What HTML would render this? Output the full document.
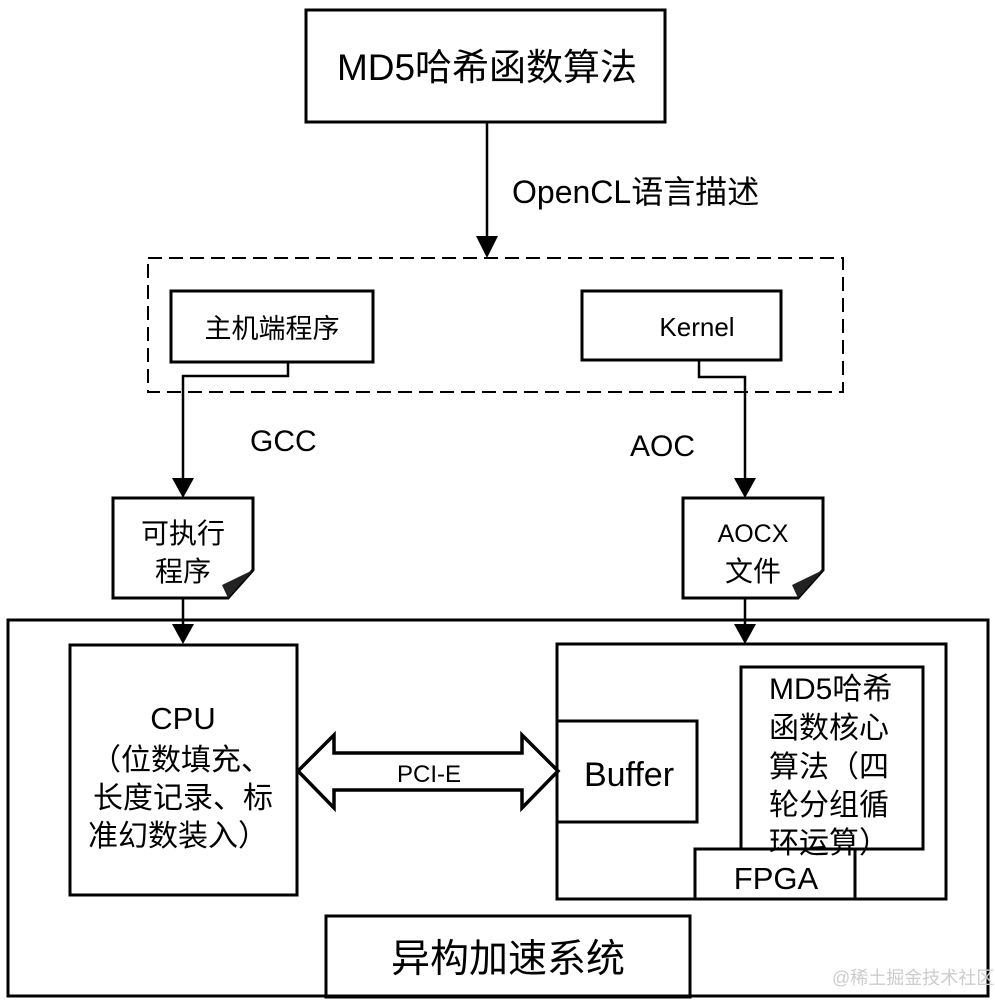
<!DOCTYPE html>
<html><head><meta charset="utf-8"><style>
body{margin:0;background:#fff;}
svg text{font-family:"Liberation Sans","Noto Sans CJK SC",sans-serif;fill:#000;}
</style></head><body>
<svg width="995" height="1000" viewBox="0 0 995 1000" xmlns="http://www.w3.org/2000/svg">
<g fill="none" stroke="#000" stroke-width="3">
<rect x="306" y="10" width="359" height="112"/>
<rect x="148" y="258" width="695" height="134" stroke-dasharray="14,7" stroke-width="2"/>
<rect x="171" y="291" width="202" height="71"/>
<rect x="582" y="291" width="199" height="69"/>
<rect x="8" y="620" width="980" height="376"/>
<rect x="70" y="645" width="227" height="250"/>
<rect x="557" y="644" width="389" height="255"/>
<rect x="557" y="721" width="140" height="101"/>
<rect x="741" y="667" width="182" height="182"/>
<rect x="695" y="849" width="160" height="50" fill="#fff"/>
<rect x="326" y="916" width="364" height="81"/>
<path d="M113,498 H253 V570 L228,598 H113 Z"/>
<path d="M683,498 H823 V570 L798,598 H683 Z"/>
<path d="M298,771 L334,735 V753 H522 V735 L558,771 L522,808 V790 H334 V808 Z" stroke-width="3.5"/>
</g>
<path d="M253,570 L228,598 L222,585 Z" fill="#222"/>
<path d="M823,570 L798,598 L792,585 Z" fill="#222"/>
<g fill="none" stroke="#000" stroke-width="2.5">
<path d="M487,122 V236"/><path d="M288,362 V376 H183 V478"/><path d="M699,360 V377 H745 V478"/>
<path d="M183,598 V625"/><path d="M745,598 V625"/>
</g>
<g fill="#000">
<path d="M476,236 H498 L487,258 Z"/><path d="M172,478 H194 L183,498 Z"/><path d="M734,478 H756 L745,498 Z"/>
<path d="M172,624 H194 L183,644 Z"/><path d="M734,624 H756 L745,644 Z"/>
</g>
<text x="487" y="80" font-size="37" text-anchor="middle">MD5哈希函数算法</text>
<text x="512" y="203" font-size="32">OpenCL语言描述</text>
<text x="272" y="338" font-size="27" text-anchor="middle">主机端程序</text>
<text x="697" y="336" font-size="26" text-anchor="middle">Kernel</text>
<text x="250" y="451" font-size="30">GCC</text>
<text x="630" y="456" font-size="30">AOC</text>
<text x="183" y="543" font-size="28" text-anchor="middle">可执行</text>
<text x="183" y="581" font-size="28" text-anchor="middle">程序</text>
<text x="753" y="542" font-size="25" text-anchor="middle">AOCX</text>
<text x="753" y="581" font-size="28" text-anchor="middle">文件</text>
<text x="183" y="729" font-size="31" text-anchor="middle">CPU</text>
<text x="181" y="770" font-size="30" text-anchor="middle">（位数填充、</text>
<text x="183" y="808" font-size="30" text-anchor="middle">长度记录、标</text>
<text x="178" y="846" font-size="30" text-anchor="middle">准幻数装入）</text>
<text x="429" y="782" font-size="24" text-anchor="middle">PCI-E</text>
<text x="629" y="786" font-size="34" text-anchor="middle">Buffer</text>
<text x="769" y="699" font-size="30">MD5哈希</text>
<text x="769" y="738" font-size="30">函数核心</text>
<text x="769" y="777" font-size="30">算法（四</text>
<text x="769" y="815" font-size="30">轮分组循</text>
<text x="769" y="853" font-size="30">环运算）</text>
<text x="776" y="889" font-size="31" text-anchor="middle">FPGA</text>
<text x="508" y="972" font-size="39" text-anchor="middle">异构加速系统</text>
<text x="832" y="984" font-size="18" style="fill:#ccc">@稀土掘金技术社区</text>
</svg>
</body></html>
